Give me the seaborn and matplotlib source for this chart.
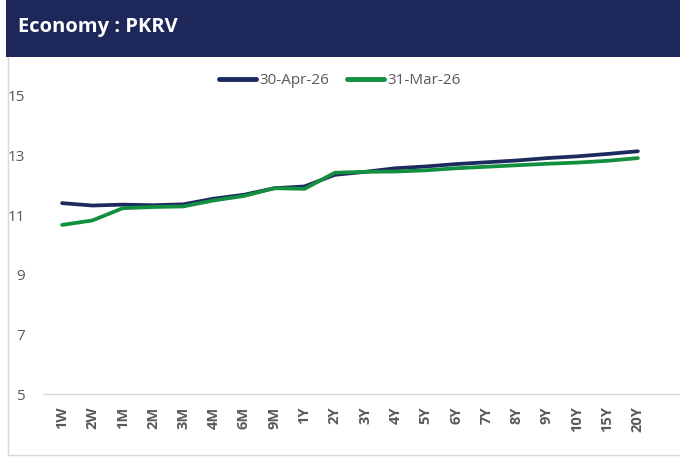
import matplotlib
matplotlib.use("Agg")
import matplotlib.pyplot as plt
import seaborn as sns
import pandas as pd
from matplotlib.patches import Rectangle

tenors = ["1W", "2W", "1M", "2M", "3M", "4M", "6M", "9M", "1Y", "2Y",
          "3Y", "4Y", "5Y", "6Y", "7Y", "8Y", "9Y", "10Y", "15Y", "20Y"]
apr26 = [11.40, 11.32, 11.35, 11.33, 11.36, 11.55, 11.68, 11.90, 11.96, 12.35,
         12.45, 12.57, 12.63, 12.71, 12.77, 12.83, 12.91, 12.97, 13.05, 13.14]
mar26 = [10.67, 10.82, 11.23, 11.27, 11.29, 11.49, 11.64, 11.90, 11.88, 12.42,
         12.45, 12.46, 12.50, 12.57, 12.62, 12.67, 12.72, 12.76, 12.82, 12.91]
series_names = ["30-Apr-26", "31-Mar-26"]
yticks = [5, 7, 9, 11, 13, 15]
title = "Economy : PKRV"

df = pd.concat([
    pd.DataFrame({"tenor": tenors, "x": range(len(tenors)), "yield": apr26, "series": series_names[0]}),
    pd.DataFrame({"tenor": tenors, "x": range(len(tenors)), "yield": mar26, "series": series_names[1]}),
])

sns.set_theme(style="white")
plt.rcParams["font.family"] = ["Open Sans", "DejaVu Sans"]

W, H = 680, 459
fig = plt.figure(figsize=(6.8, 4.59), dpi=100)

# header band
fig.patches.append(Rectangle((6 / W, 1 - 57 / H), 1 - 6 / W, 57 / H,
                             transform=fig.transFigure, facecolor="#1E275A",
                             edgecolor="none", zorder=0))
fig.text(18 / W, 1 - 27 / H, title, color="white", fontsize=14.5, fontweight="bold",
         va="center", ha="left", family=["Open Sans", "DejaVu Sans"])
# outer border
fig.add_artist(plt.Line2D([8 / W, 8 / W], [1 - 57 / H, 1 - 455 / H],
                          transform=fig.transFigure, color="#D9D9D9", lw=1))
fig.add_artist(plt.Line2D([8 / W, 1], [1 - 455 / H, 1 - 455 / H],
                          transform=fig.transFigure, color="#D9D9D9", lw=1))

left, right = 43 / W, 1.0
bottom = 1 - 394 / H
top = 1 - 60 / H
ax = fig.add_axes([left, bottom, right - left, top - bottom])

palette = {series_names[0]: "#1C2A5F", series_names[1]: "#12903F"}
sns.lineplot(data=df, x="x", y="yield", hue="series", palette=palette,
             linewidth=2.7, ax=ax, sort=False)

ax.set_ylim(5, 16.2)
ax.set_xlim(-0.63, 20.39)
ax.set_yticks(yticks)
ax.set_yticklabels([str(v) for v in yticks], color="#595959", fontsize=11)
ax.set_xticks(range(len(tenors)))
ax.set_xticklabels(tenors, rotation=90, color="#595959", fontsize=10.5, fontweight="bold")
ax.tick_params(axis="y", length=0, pad=13)
ax.tick_params(axis="x", length=0, pad=9)
ax.set_xlabel("")
ax.set_ylabel("")
for s in ["top", "right", "left"]:
    ax.spines[s].set_visible(False)
ax.spines["bottom"].set_color("#D9D9D9")
ax.spines["bottom"].set_linewidth(1)
ax.grid(False)

leg = ax.legend(loc="center", bbox_to_anchor=((340 - 43) / (680 - 43), (394 - 81) / (394 - 60)),
                ncol=2, frameon=False, fontsize=11, handlelength=2.4,
                columnspacing=1.2, handletextpad=0.2, borderaxespad=0)
for t in leg.get_texts():
    t.set_color("#595959")
for l in leg.get_lines():
    l.set_linewidth(3.5)

fig.savefig("out.png", dpi=100)
